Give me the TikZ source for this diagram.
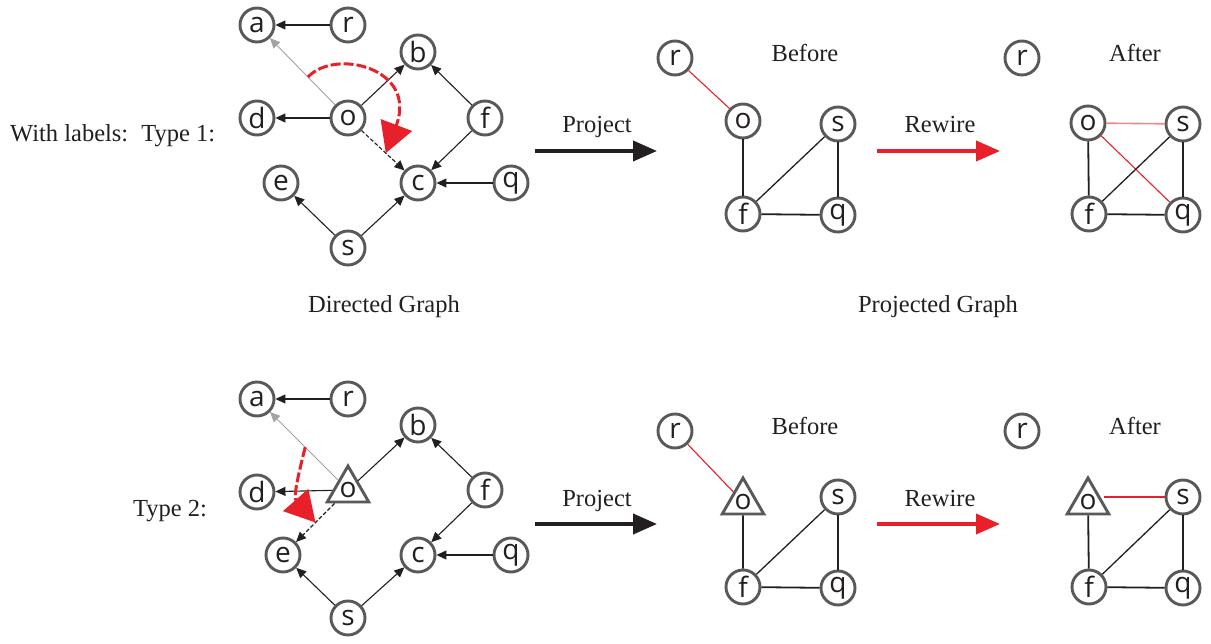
\documentclass[tikz,border=0pt]{standalone}
\usepackage{fontspec}
\setmainfont{Liberation Serif}
\newfontfamily\nodefont{Open Sans}
\usetikzlibrary{arrows.meta,shapes.geometric,calc}
\definecolor{ringgray}{HTML}{595959}
\definecolor{inkblack}{HTML}{231F20}
\definecolor{hotred}{HTML}{E8202A}
\definecolor{softred}{HTML}{EF8A8C}
\definecolor{fadegray}{HTML}{A3A3A3}
\tikzset{
  vtx/.style={circle,draw=ringgray,line width=2.9pt,minimum size=34pt,inner sep=0pt,
    font=\nodefont\fontsize{28}{28}\selectfont,text=inkblack},
  tri/.style={regular polygon,regular polygon sides=3,draw=ringgray,line width=2.9pt,
    minimum size=48pt,inner sep=0pt,font=\nodefont\fontsize{28}{28}\selectfont,text=inkblack},
  dedge/.style={-{Triangle[length=10pt,width=9pt]},line width=1.1pt,draw=inkblack},
  newedge/.style={dedge,dash pattern=on 4pt off 2pt},
  oldedge/.style={-{Triangle[length=10pt,width=9pt]},line width=0.9pt,draw=fadegray},
  swing/.style={draw=hotred,line width=3pt,dash pattern=on 10pt off 3pt,
    -{Triangle[length=30pt,width=33pt,fill=hotred]}},
  uedge/.style={line width=1.8pt,draw=inkblack},
  udiag/.style={line width=1.3pt,draw=inkblack},
  redge/.style={line width=1.1pt,draw=hotred},
  pinkedge/.style={line width=1.6pt,draw=softred},
  lbl/.style={font=\fontsize{24.5}{28}\selectfont,text=inkblack,inner sep=0pt,anchor=base},
  bigarrow/.style={line width=4pt,-{Triangle[length=24pt,width=20pt]}},
}
\begin{document}
\begin{tikzpicture}[x=1pt,y=-1pt]
\fill[white] (0,0) rectangle (1211,644);
\useasboundingbox (0,0) rectangle (1211,644);

% ---------- row labels ----------
\node[lbl,anchor=base west] (lab1) at (10,142) {With labels:\hspace{5pt} Type 1:};
\node[lbl,anchor=base west] (lab2) at (133,516) {Type 2:};
\node[lbl] (dg) at (384,313) {Directed Graph};
\node[lbl] (pg) at (938,313) {Projected Graph};

% ---------- directed graph, type 1 ----------
\node[vtx] (a1) at (257,25) {a};
\node[vtx] (r1) at (348,25) {r};
\node[vtx] (b1) at (418,52) {b};
\node[vtx] (d1) at (257,118) {d};
\node[vtx] (o1) at (348,118) {o};
\node[vtx] (f1) at (485,118) {f};
\node[vtx] (e1) at (281,183) {e};
\node[vtx] (c1) at (418,183) {c};
\node[vtx] (q1) at (511,183) {q};
\node[vtx] (s1) at (348,248) {s};
\draw[dedge] (r1) -- (a1);
\draw[dedge] (o1) -- (d1);
\draw[dedge] (o1) -- (b1);
\draw[dedge] (f1) -- (b1);
\draw[dedge] (f1) -- (c1);
\draw[dedge] (q1) -- (c1);
\draw[dedge] (s1) -- (e1);
\draw[dedge] (s1) -- (c1);
\draw[oldedge] (o1) -- (a1);
\draw[newedge] (o1) -- (c1);
\coordinate (sw1a) at ($(o1)!0.44!(a1)$);
\coordinate (sw1b) at ($(o1)!0.54!(c1)$);
\draw[swing] (sw1a) .. controls (335,48) and (418,68) .. (sw1b);

% ---------- directed graph, type 2 ----------
\node[vtx] (a2) at (257,399) {a};
\node[vtx] (r2) at (348,399) {r};
\node[vtx] (b2) at (418,425) {b};
\node[vtx] (d2) at (257,492) {d};
\node[tri] (o2) at (348,490) {o};
\node[vtx] (f2) at (485,490) {f};
\node[vtx] (e2) at (283,555) {e};
\node[vtx] (c2) at (418,555) {c};
\node[vtx] (q2) at (511,555) {q};
\node[vtx] (s2) at (348,618) {s};
\draw[dedge] (r2) -- (a2);
\draw[dedge] (o2) -- (d2);
\draw[dedge] (o2) -- (b2);
\draw[dedge] (f2) -- (b2);
\draw[dedge] (f2) -- (c2);
\draw[dedge] (q2) -- (c2);
\draw[dedge] (s2) -- (e2);
\draw[dedge] (s2) -- (c2);
\draw[oldedge] (o2) -- (a2);
\draw[newedge] (o2) -- (e2);
\coordinate (sw2a) at ($(o2)!0.47!(a2)$);
\coordinate (sw2b) at ($(o2)!0.5!(e2)$);
\draw[swing] (sw2a) .. controls (299,472) and (293,497) .. (sw2b);

% ---------- project / rewire arrows ----------
\coordinate (pj1a) at (535,151);  \coordinate (pj1b) at (657,151);
\coordinate (rw1a) at (877,151);  \coordinate (rw1b) at (1000,151);
\coordinate (pj2a) at (535,524);  \coordinate (pj2b) at (657,524);
\coordinate (rw2a) at (877,524);  \coordinate (rw2b) at (1000,524);
\draw[bigarrow,draw=inkblack,fill=inkblack] (pj1a) -- (pj1b);
\draw[bigarrow,draw=hotred,fill=hotred] (rw1a) -- (rw1b);
\draw[bigarrow,draw=inkblack,fill=inkblack] (pj2a) -- (pj2b);
\draw[bigarrow,draw=hotred,fill=hotred] (rw2a) -- (rw2b);
\node[lbl] (pjt1) at (597,133) {Project};
\node[lbl] (rwt1) at (940,133) {Rewire};
\node[lbl] (pjt2) at (597,506) {Project};
\node[lbl] (rwt2) at (940,506) {Rewire};

% ---------- projected graph, type 1 ----------
\node[lbl] (bf1) at (805,62) {Before};
\node[lbl] (af1) at (1135,62) {After};
\node[vtx] (pr1) at (675,58) {r};
\node[vtx] (po1) at (743,121) {o};
\node[vtx] (ps1) at (838,124) {s};
\node[vtx] (pf1) at (743,214) {f};
\node[vtx] (pq1) at (838,215) {q};
\draw[redge] (pr1) -- (po1);
\draw[uedge] (po1) -- (pf1);
\draw[udiag] (pf1) -- (ps1);
\draw[uedge] (ps1) -- (pq1);
\draw[uedge] (pf1) -- (pq1);

\node[vtx] (nr1) at (1022,58) {r};
\node[vtx] (no1) at (1088,123) {o};
\node[vtx] (ns1) at (1183,124) {s};
\node[vtx] (nf1) at (1089,214) {f};
\node[vtx] (nq1) at (1183,215) {q};
\draw[pinkedge] (no1) -- (ns1);
\draw[redge] (no1) -- (nq1);
\draw[uedge] (no1) -- (nf1);
\draw[udiag] (nf1) -- (ns1);
\draw[uedge] (ns1) -- (nq1);
\draw[uedge] (nf1) -- (nq1);

% ---------- projected graph, type 2 ----------
\node[lbl] (bf2) at (805,435) {Before};
\node[lbl] (af2) at (1135,435) {After};
\node[vtx] (pr2) at (675,431) {r};
\node[tri] (po2) at (743,502) {o};
\node[vtx] (ps2) at (838,497) {s};
\node[vtx] (pf2) at (743,587) {f};
\node[vtx] (pq2) at (838,588) {q};
\draw[redge] (pr2) -- (po2);
\draw[uedge] (po2) -- (pf2);
\draw[udiag] (pf2) -- (ps2);
\draw[uedge] (ps2) -- (pq2);
\draw[uedge] (pf2) -- (pq2);

\node[vtx] (nr2) at (1022,431) {r};
\node[tri] (no2) at (1088,502) {o};
\node[vtx] (ns2) at (1183,497) {s};
\node[vtx] (nf2) at (1089,587) {f};
\node[vtx] (nq2) at (1183,588) {q};
\draw[redge] (no2.east |- ns2) -- (ns2);
\draw[uedge] (no2) -- (nf2);
\draw[udiag] (nf2) -- (ns2);
\draw[uedge] (ns2) -- (nq2);
\draw[uedge] (nf2) -- (nq2);
\end{tikzpicture}
\end{document}
